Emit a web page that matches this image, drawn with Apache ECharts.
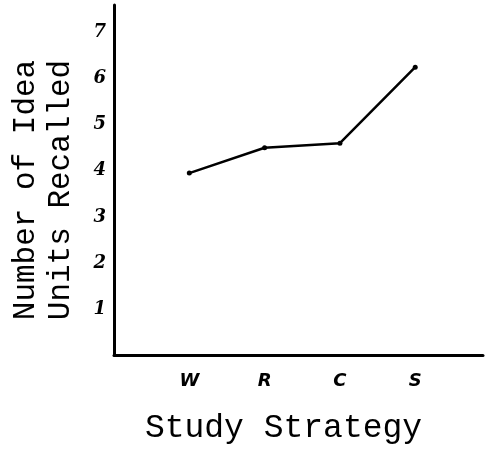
<!DOCTYPE html>
<html>
<head>
<meta charset="utf-8">
<script src="https://cdn.jsdelivr.net/npm/echarts@6/dist/echarts.min.js"></script>
<style>html,body{margin:0;padding:0;background:#fff}#c{width:490px;height:450px}</style>
</head>
<body>
<div id="c"></div>
<script>
const categories = ['W', 'R', 'C', 'S'];
const recalled = [3.95, 4.5, 4.6, 6.25];
const yTickLabels = ['', '1', '2', '3', '4', '5', '6', '7'];
const xTitle = 'Study Strategy';
const yTitle = 'Number of Idea\nUnits Recalled';

const chart = echarts.init(document.getElementById('c'), null, {renderer: 'canvas'});
const points = recalled.map((v, i) => [i + 1, v]);
chart.setOption({
  animation: false,
  grid: {left: 112, right: 7, top: 5, bottom: 91},
  xAxis: {
    type: 'value', min: 0, max: 4.9, interval: 1,
    splitLine: {show: false},
    axisTick: {show: false},
    axisLine: {show: true, lineStyle: {color: '#000', width: 3}},
    axisLabel: {
      margin: 17,
      color: '#000',
      fontFamily: 'DejaVu Sans',
      fontStyle: 'italic',
      fontWeight: 'bold',
      fontSize: 18,
      formatter: v => (Number.isInteger(v) && v >= 1 && v <= categories.length) ? categories[v - 1] : ''
    },
    name: xTitle,
    nameLocation: 'middle',
    nameGap: 57,
    nameTextStyle: {color: '#000', fontFamily: 'Liberation Mono', fontSize: 33, padding: [0, 30, 0, 0]}
  },
  yAxis: {
    type: 'value', min: 0, max: 7.6, interval: 1,
    splitLine: {show: false},
    axisTick: {show: false},
    axisLine: {show: true, lineStyle: {color: '#000', width: 3}},
    axisLabel: {
      margin: 8,
      color: '#000',
      fontFamily: 'DejaVu Serif',
      fontStyle: 'italic',
      fontWeight: 'bold',
      fontSize: 18,
      formatter: v => Number.isInteger(v) ? (yTickLabels[v] || '') : ''
    },
    name: yTitle,
    nameLocation: 'middle',
    nameGap: 36,
    nameRotate: 90,
    nameTextStyle: {color: '#000', fontFamily: 'Liberation Mono', fontSize: 31, lineHeight: 35, padding: [0, 20, 0, 0]}
  },
  series: [{
    type: 'line',
    data: points,
    symbol: 'circle',
    symbolSize: 5,
    itemStyle: {color: '#000'},
    lineStyle: {color: '#000', width: 2.5}
  }]
});
</script>
</body>
</html>
